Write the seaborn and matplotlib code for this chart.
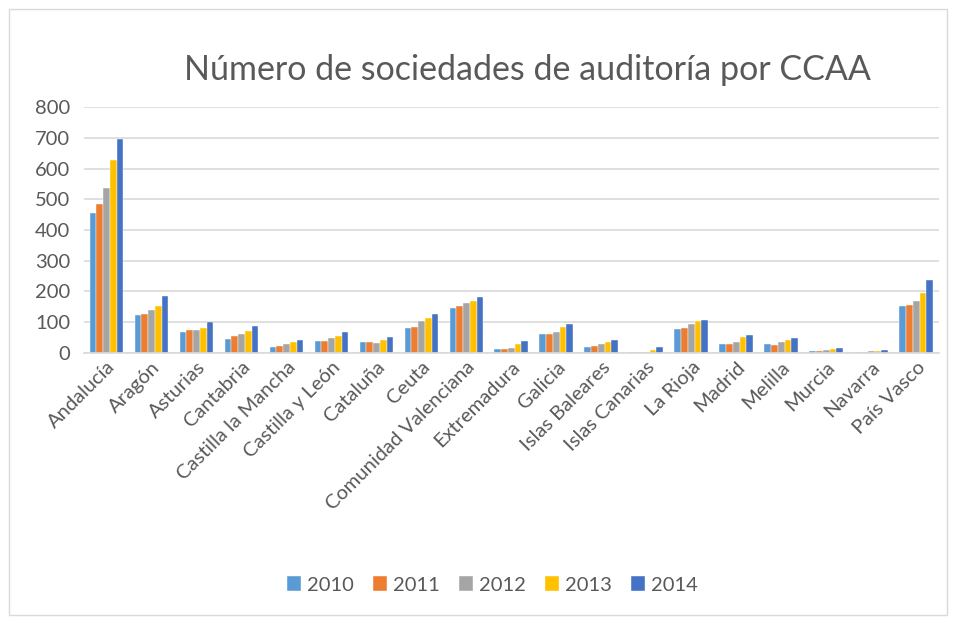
import numpy as np
import pandas as pd
import matplotlib
matplotlib.use("Agg")
import matplotlib.pyplot as plt
import seaborn as sns
from matplotlib.patches import Rectangle

regions = ["Andalucía", "Aragón", "Asturias", "Cantabria", "Castilla la Mancha",
           "Castilla y León", "Cataluña", "Ceuta", "Comunidad Valenciana",
           "Extremadura", "Galicia", "Islas Baleares", "Islas Canarias",
           "La Rioja", "Madrid", "Melilla", "Murcia", "Navarra", "País Vasco"]
years = ["2010", "2011", "2012", "2013", "2014"]

v2010 = [457, 123, 69, 46, 19, 38, 34, 82, 146, 13, 62, 19, 4, 78, 30, 30, 7, 3, 153]
v2011 = [485, 125, 74, 54, 21, 37, 34, 85, 151, 13, 62, 21, 4, 80, 27, 26, 7, 3, 157]
v2012 = [538, 138, 74, 60, 27, 48, 33, 103, 163, 16, 68, 27, 4, 95, 34, 34, 9, 5, 170]
v2013 = [630, 153, 80, 72, 34, 53, 43, 113, 170, 30, 85, 34, 8, 102, 50, 40, 12, 5, 195]
v2014 = [697, 185, 99, 88, 43, 67, 51, 125, 181, 39, 95, 42, 18, 107, 59, 49, 16, 10, 237]

colors = ["#5B9BD5", "#ED7D31", "#A5A5A5", "#FFC000", "#4472C4"]

df = pd.DataFrame({"CCAA": regions, "2010": v2010, "2011": v2011,
                   "2012": v2012, "2013": v2013, "2014": v2014})
long_df = df.melt(id_vars="CCAA", var_name="Año", value_name="Sociedades")

txt = "#595959"
plt.rcParams["font.family"] = ["Lato", "DejaVu Sans"]

fig = plt.figure(figsize=(9.56, 6.21), dpi=100)
ax = fig.add_axes([0.0879, 0.432, 0.894, 0.395])

sns.barplot(data=long_df, x="CCAA", y="Sociedades", hue="Año", hue_order=years,
            palette=colors, saturation=1, width=0.75, edgecolor="white",
            linewidth=0.3, ax=ax, legend=True)

ax.set_ylim(0, 800)
ax.set_yticks(range(0, 801, 100))
ax.yaxis.grid(True, color="#D9D9D9", linewidth=1.2)
ax.set_axisbelow(True)
for s in ["top", "right", "left"]:
    ax.spines[s].set_visible(False)
ax.spines["bottom"].set_color("#D9D9D9")
ax.spines["bottom"].set_linewidth(1.2)
ax.tick_params(axis="both", length=0, colors=txt, labelsize=14.5)
ax.tick_params(axis="y", pad=10)
ax.tick_params(axis="x", pad=4)
ax.set_xlim(-0.5, len(regions) - 0.5)
plt.setp(ax.get_xticklabels(), rotation=45, ha="right", rotation_mode="anchor")
ax.set_xlabel("")
ax.set_ylabel("")

handles, labels = ax.get_legend_handles_labels()
ax.legend_.remove()
fig.legend(handles, labels, loc="center", bbox_to_anchor=(0.515, 0.058), ncol=5,
           frameon=False, fontsize=14.5, labelcolor=txt, handlelength=0.7,
           handleheight=0.7, handletextpad=0.3, columnspacing=0.95)

fig.text(0.552, 0.887, "Número de sociedades de auditoría por CCAA",
         ha="center", va="center", fontsize=24.5, color=txt)

fig.patches.append(Rectangle((0.009, 0.01), 0.982, 0.975, transform=fig.transFigure,
                             fill=False, edgecolor="#D9D9D9", linewidth=1))

fig.savefig("out.png", dpi=100)
